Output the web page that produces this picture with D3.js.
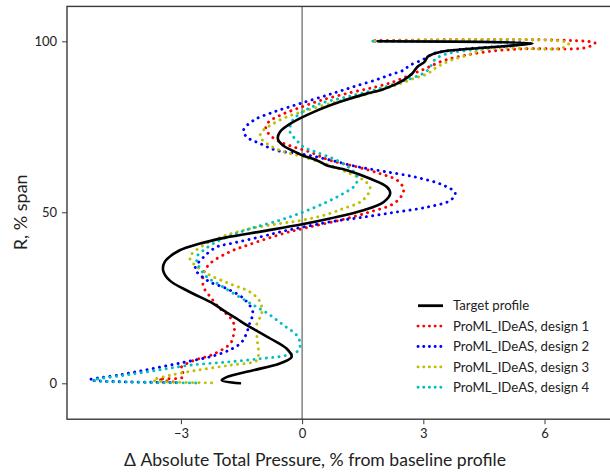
<!DOCTYPE html>
<html>
<head>
<meta charset="utf-8">
<script src="https://cdn.jsdelivr.net/npm/d3@7"></script>
<style>
  html, body { margin: 0; padding: 0; background: #fff; }
  svg { display: block; }
  text { font-family: Lato, "Open Sans", sans-serif; fill: #222; }
</style>
</head>
<body>
<svg id="chart" width="610" height="472"></svg>
<script>
// ---------- data ----------
const seriesNames = ["Target profile", "ProML_IDeAS, design 1", "ProML_IDeAS, design 2", "ProML_IDeAS, design 3", "ProML_IDeAS, design 4"];
const seriesColors = ["#000000", "#ff0000", "#0000ff", "#bfbf00", "#00bfbf"];

const xTickValues = [-3, 0, 3, 6];
const xTickLabels = ["\u22123", "0", "3", "6"];
const yTickValues = [0, 50, 100];
const yTickLabels = ["0", "50", "100"];

const targetSpan = [100, 99.45, 98.8, 97.9, 96.9, 95.6, 94.0, 92.5, 90.5, 88.6, 87.1, 85.7, 84.7, 82.3, 79.3, 76.4, 73.5, 71.5, 69.6, 68.1, 66.7, 65.5, 64.6, 63.7, 62.3, 59.8, 57.4, 55.5, 53.0, 50.6, 48.2, 46.5, 44.5, 42.6, 40.8, 38.9, 35.5, 33.0, 30.1, 26.7, 23.3, 21.3, 18.9, 17.0, 13.1, 10.1, 7.7, 5.8, 3.8, 1.8, 0.9, 0];
const targetDP   = [1.87, 5.7, 5.24, 4.25, 3.42, 3.12, 3.03, 2.85, 2.72, 2.5, 2.25, 1.94, 1.6, 0.94, 0.28, -0.22, -0.55, -0.6, -0.48, -0.25, 0.0, 0.3, 0.47, 0.62, 1.11, 1.69, 2.1, 2.18, 2.02, 1.52, 0.69, 0.0, -0.96, -1.9, -2.55, -3.03, -3.4, -3.44, -3.28, -2.78, -2.2, -1.95, -1.62, -1.37, -0.79, -0.38, -0.26, -0.55, -1.21, -1.87, -1.99, -1.54];

const design1Span = [100.2, 99.5, 98.1, 97.8, 97.0, 95.4, 94.0, 92.0, 90.3, 88.3, 86.6, 85.0, 82.7, 80.3, 78.4, 76.4, 74.5, 72.5, 70.6, 69.1, 67.6, 65.2, 63.3, 61.3, 59.4, 56.9, 55.0, 52.5, 50.1, 47.7, 45.5, 43.8, 40.6, 38.4, 35.0, 32.1, 28.2, 24.8, 21.8, 19.5, 17.0, 14.0, 11.6, 8.5, 6.5, 4.5, 3.0, 1.8, 1.2, 0.3];
const design1DP   = [1.8, 7.25, 7.0, 5.5, 4.6, 3.83, 3.42, 3.05, 2.7, 2.3, 1.8, 1.2, 0.45, -0.13, -0.54, -0.83, -0.9, -0.79, -0.55, -0.21, 0.2, 0.69, 1.35, 1.93, 2.35, 2.51, 2.47, 2.26, 1.68, 0.94, 0.11, -0.46, -1.3, -1.8, -2.28, -2.44, -2.44, -2.24, -2.03, -1.8, -1.68, -1.7, -1.78, -2.2, -2.72, -3.0, -2.95, -2.95, -3.55, -3.1];

const design2Span = [100, 99.4, 98.7, 98.2, 97.5, 96.4, 94.7, 93.0, 91.5, 90.3, 88.8, 87.0, 85.6, 84.2, 81.8, 79.3, 76.9, 74.0, 72.0, 70.1, 68.1, 67.0, 65.4, 63.5, 62.0, 60.3, 57.9, 55.6, 53.5, 51.5, 50.1, 48.6, 47.2, 45.7, 44.4, 42.9, 40.8, 39.9, 36.9, 33.5, 31.6, 29.6, 27.7, 24.8, 20.8, 17.5, 14.5, 12.0, 10.0, 8.0, 6.2, 4.3, 2.5, 1.0, 0.2];
const design2DP   = [1.8, 5.5, 5.2, 4.5, 3.83, 3.25, 3.0, 2.67, 2.5, 2.2, 1.85, 1.35, 0.98, 0.61, -0.05, -0.71, -1.2, -1.45, -1.37, -1.04, -0.63, 0.0, 0.65, 1.3, 2.0, 2.8, 3.5, 3.79, 3.67, 3.09, 2.35, 1.52, 0.69, 0.03, -0.5, -1.0, -1.79, -2.11, -2.44, -2.65, -2.52, -2.28, -1.87, -1.45, -1.22, -1.3, -1.38, -1.5, -1.75, -2.2, -2.9, -3.7, -4.5, -5.26, -3.0];

const design3Span = [100, 99.5, 98.1, 97.8, 95.9, 94.4, 92.5, 90.5, 89.1, 87.1, 85.7, 84.2, 82.3, 79.8, 77.9, 75.4, 73.5, 72.0, 70.1, 68.1, 66.2, 63.7, 61.3, 59.4, 57.4, 55.5, 53.0, 51.1, 49.1, 47.7, 46.7, 45.2, 43.0, 40.4, 36.9, 35.0, 32.1, 29.1, 26.7, 23.8, 20.4, 17.4, 13.7, 8.7, 6.7, 5.3, 3.8, 2.3, 0.9, 0.1];
const design3DP   = [1.8, 6.6, 6.45, 4.6, 4.08, 3.67, 3.34, 3.1, 2.76, 2.3, 1.94, 1.5, 0.85, 0.11, -0.38, -0.79, -1.0, -1.04, -0.87, -0.55, 0.03, 0.69, 1.19, 1.52, 1.68, 1.64, 1.44, 1.02, 0.53, 0.0, -0.55, -1.29, -1.95, -2.44, -2.78, -2.69, -2.36, -1.79, -1.29, -1.04, -1.0, -1.12, -1.12, -1.08, -1.12, -1.79, -2.61, -3.28, -3.69, -2.12];

const design4Span = [100, 99.4, 98.6, 97.6, 96.4, 94.8, 93.0, 91.0, 88.1, 85.7, 83.7, 81.8, 78.9, 76.4, 73.5, 71.0, 69.1, 67.8, 65.2, 62.8, 60.8, 59.0, 57.4, 55.5, 53.0, 50.1, 47.7, 45.2, 43.5, 41.5, 38.9, 36.9, 34.5, 31.1, 28.7, 25.7, 22.8, 20.4, 17.0, 14.0, 11.6, 9.6, 8.2, 7.2, 6.2, 5.3, 3.8, 2.3, 0.9, 0.1];
const design4DP   = [1.75, 5.6, 5.0, 4.3, 3.6, 3.3, 3.2, 3.05, 2.43, 1.77, 1.1, 0.45, -0.05, -0.26, -0.3, -0.13, 0.03, 0.3, 0.86, 1.19, 1.35, 1.36, 1.27, 1.02, 0.61, 0.03, -0.55, -1.29, -1.7, -2.1, -2.44, -2.61, -2.57, -2.36, -2.03, -1.62, -1.2, -0.85, -0.46, -0.13, -0.05, -0.09, -0.38, -1.04, -1.87, -2.78, -3.6, -4.43, -5.17, -2.6];

const spans = [targetSpan, design1Span, design2Span, design3Span, design4Span];
const dps = [targetDP, design1DP, design2DP, design3DP, design4DP];

// ---------- layout ----------
const svg = d3.select("#chart");
const xDomain = [-5.82, 7.92];
const yDomain = [-10.5, 110.2];
const x = d3.scaleLinear().domain(xDomain).range([67, 67 + 40.4 * (xDomain[1] - xDomain[0])]);
const y = d3.scaleLinear().domain([0, 100]).range([383.3, 41.3]);

const plotLeft = x(xDomain[0]), plotRight = x(xDomain[1]);
const plotTop = y(yDomain[1]), plotBottom = y(yDomain[0]);

svg.append("defs").append("clipPath").attr("id", "plotclip")
  .append("rect").attr("x", plotLeft).attr("y", plotTop).attr("width", plotRight - plotLeft).attr("height", plotBottom - plotTop);

// zero line
svg.append("line")
  .attr("x1", x(0)).attr("x2", x(0)).attr("y1", plotTop).attr("y2", plotBottom)
  .attr("stroke", "#8a8a8a").attr("stroke-width", 1.6);

// series
const line = d3.line()
  .x(d => x(d[1]))
  .y(d => y(d[0]))
  .curve(d3.curveCatmullRom.alpha(0.5));

const plot = svg.append("g").attr("clip-path", "url(#plotclip)");
// draw designs first, target on top
[1, 2, 3, 4, 0].forEach(i => {
  const pts = spans[i].map((s, k) => [s, dps[i][k]]);
  const p = plot.append("path")
    .attr("d", line(pts))
    .attr("fill", "none")
    .attr("stroke", seriesColors[i]);
  if (i === 0) {
    p.attr("stroke-width", 2.6).attr("stroke-linejoin", "round").attr("stroke-linecap", "round");
  } else {
    p.attr("stroke-width", 2.9).attr("stroke-linecap", "round").attr("stroke-dasharray", "0.1 6.2");
  }
});

// frame
svg.append("rect")
  .attr("x", plotLeft).attr("y", plotTop).attr("width", plotRight - plotLeft).attr("height", plotBottom - plotTop)
  .attr("fill", "none").attr("stroke", "#3a3a3a").attr("stroke-width", 1.4);

// axes
const xAxis = d3.axisBottom(x).tickValues(xTickValues).tickFormat((d, i) => xTickLabels[i]).tickSize(5).tickPadding(5);
const gx = svg.append("g").attr("transform", `translate(0,${plotBottom})`).call(xAxis);
gx.select(".domain").remove();
gx.selectAll("line").attr("stroke", "#3a3a3a");
gx.selectAll("text").attr("font-size", 13).attr("font-family", "Lato, 'Open Sans', sans-serif").attr("fill", "#333");

const yAxis = d3.axisLeft(y).tickValues(yTickValues).tickFormat((d, i) => yTickLabels[i]).tickSize(5).tickPadding(5);
const gy = svg.append("g").attr("transform", `translate(${plotLeft},0)`).call(yAxis);
gy.select(".domain").remove();
gy.selectAll("line").attr("stroke", "#3a3a3a");
gy.selectAll("text").attr("font-size", 13).attr("font-family", "Lato, 'Open Sans', sans-serif").attr("fill", "#333");

// axis labels
svg.append("text")
  .attr("x", 315).attr("y", 466)
  .attr("text-anchor", "middle").attr("font-size", 17.6)
  .text("\u0394 Absolute Total Pressure, % from baseline profile");

svg.append("text")
  .attr("transform", `translate(27,${y(50)}) rotate(-90)`)
  .attr("text-anchor", "middle").attr("font-size", 18)
  .text("R, % span");

// legend
const legend = svg.append("g");
seriesNames.forEach((name, i) => {
  const ly = 305.7 + i * 20.4;
  const l = legend.append("line")
    .attr("x1", 418).attr("x2", 443).attr("y1", ly).attr("y2", ly)
    .attr("stroke", seriesColors[i]);
  if (i === 0) l.attr("stroke-width", 2.8);
  else l.attr("stroke-width", 2.9).attr("stroke-linecap", "round").attr("stroke-dasharray", "0.1 5.6");
  legend.append("text")
    .attr("x", 453).attr("y", ly).attr("dy", "0.35em")
    .attr("font-size", 13.2)
    .text(name);
});
</script>
</body>
</html>
